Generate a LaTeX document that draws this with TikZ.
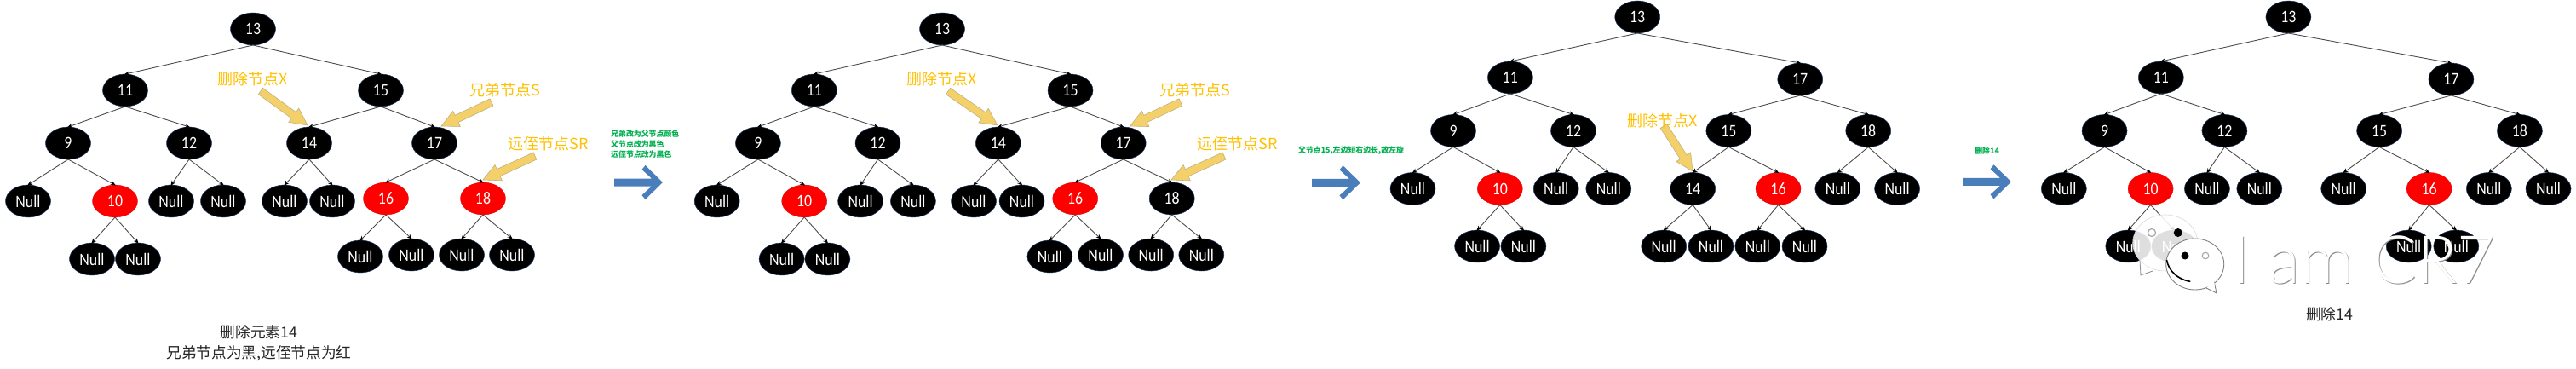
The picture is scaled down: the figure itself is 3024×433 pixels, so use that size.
\documentclass[tikz,border=0pt]{standalone}
\usepackage{fontspec}
\setmainfont{Carlito}
\newfontfamily\nodefont[FakeStretch=0.87]{Carlito}
\newfontfamily\cjk{Noto Sans CJK SC}
\newfontfamily\wmfont{Lato Light}
\usetikzlibrary{shapes.geometric,calc,arrows.meta}
\definecolor{nodeedge}{HTML}{1F3864}
\definecolor{labelorange}{HTML}{FFC000}
\definecolor{yarrowfill}{HTML}{F3D06A}
\definecolor{yarrowedge}{HTML}{BDB27E}
\definecolor{barrowfill}{HTML}{4A7EBB}
\definecolor{notegreen}{HTML}{00B050}
\tikzset{
  treenode/.style={ellipse,minimum width=53pt,minimum height=38pt,inner sep=0pt,outer sep=0pt,text=white,font=\nodefont\fontsize{20.5}{20.5}\selectfont},
  blk/.style={treenode,fill=black,draw=nodeedge,line width=0.5pt},
  rednode/.style={treenode,fill=red,draw=red!85!black,line width=0.3pt},
  edgeline/.style={draw=black!70,line width=0.9pt,-{Stealth[length=6pt,width=5pt,color=black]},shorten >=-1pt},
  marklabel/.style={text=labelorange,font=\cjk\fontsize{18}{18}\selectfont,inner sep=0pt},
  notetext/.style={text=notegreen,font=\cjk\bfseries\fontsize{8.9}{12}\selectfont,inner sep=0pt,align=left},
  captiontext/.style={text=black!85,font=\cjk\fontsize{17.7}{24}\selectfont,inner sep=0pt,align=center},
  yarrowstyle/.style={fill=yarrowfill,draw=yarrowedge,line width=0.6pt},
  barrowstyle/.style={fill=barrowfill,draw=none},
}
\newcommand\yellowarrow[2]{%
  \coordinate (ys) at (#1);\coordinate (ye) at (#2);
  \coordinate (yn) at ($(ye)!20pt!(ys)$);
  \draw[yarrowstyle] ($(ys)!4.5pt!90:(ye)$) -- ($(yn)!4.5pt!90:(ye)$) -- ($(yn)!10pt!90:(ye)$) -- (ye)
     -- ($(yn)!10pt!-90:(ye)$) -- ($(yn)!4.5pt!-90:(ye)$) -- ($(ys)!4.5pt!-90:(ye)$) -- cycle;
}
\newcommand\bluearrow[2]{%
  \fill[barrowstyle,shift={(#1,#2)}] (0,-4.5) -- (44,-4.5) -- (32.5,-15) -- (36.5,-20) -- (57,0)
     -- (36.5,20) -- (32.5,15) -- (44,4.5) -- (0,4.5) -- cycle;
}
\begin{document}
\begin{tikzpicture}[x=1pt,y=-1pt]
\useasboundingbox (0,0) rectangle (3024,433);
\fill[white] (0,0) rectangle (3024,433);

% ---------- panel 1
\node[blk] (a13) at (297,34) {13};
\node[blk] (a11) at (147,106) {11};
\node[blk] (a15) at (447,106) {15};
\node[blk] (a9) at (80,168) {9};
\node[blk] (a12) at (222,168) {12};
\node[blk] (a14) at (363,168) {14};
\node[blk] (a17) at (510,168) {17};
\node[blk] (an1) at (33,236) {Null};
\node[rednode] (a10) at (135,236) {10};
\node[blk] (an2) at (201,236) {Null};
\node[blk] (an3) at (262,236) {Null};
\node[blk] (an4) at (334,236) {Null};
\node[blk] (an5) at (390,236) {Null};
\node[rednode] (a16) at (453,233) {16};
\node[rednode] (a18) at (567,233) {18};
\node[blk] (an6) at (108,304) {Null};
\node[blk] (an7) at (162,304) {Null};
\node[blk] (an8) at (423,301) {Null};
\node[blk] (an9) at (483,299) {Null};
\node[blk] (an10) at (542,299) {Null};
\node[blk] (an11) at (601,299) {Null};
\foreach \p/\c in {a13/a11,a13/a15,a11/a9,a11/a12,a15/a14,a15/a17,a9/an1,a9/a10,a12/an2,a12/an3,a14/an4,a14/an5,a17/a16,a17/a18,a10/an6,a10/an7,a16/an8,a16/an9,a18/an10,a18/an11}
  \draw[edgeline] (\p.south) -- (\c.north);
\yellowarrow{306,107}{361,147}
\yellowarrow{577,120}{518,148}
\yellowarrow{628,183}{567,211}
\node[marklabel] (alx) at (297,93) {删除节点X};
\node[marklabel] (als) at (593,106) {兄弟节点S};
\node[marklabel] (alr) at (644,169) {远侄节点SR};
\node[captiontext] (acap) at (304,403) {删除元素14\\兄弟节点为黑,远侄节点为红};

% ---------- step 1
\node[notetext,anchor=west] (note1) at (717,169) {兄弟改为父节点颜色\\父节点改为黑色\\远侄节点改为黑色};
\bluearrow{721}{214}

% ---------- panel 2
\node[blk] (b13) at (1106,34) {13};
\node[blk] (b11) at (955.8,106) {11};
\node[blk] (b15) at (1256.5,106) {15};
\node[blk] (b9) at (889.9,168) {9};
\node[blk] (b12) at (1030.5,168) {12};
\node[blk] (b14) at (1171.8,168) {14};
\node[blk] (b17) at (1318.7,168) {17};
\node[blk] (bn1) at (841.7,236) {Null};
\node[rednode] (b10) at (944.2,236) {10};
\node[blk] (bn2) at (1010.1,236) {Null};
\node[blk] (bn3) at (1071.9,236) {Null};
\node[blk] (bn4) at (1143,236) {Null};
\node[blk] (bn5) at (1199.5,236) {Null};
\node[rednode] (b16) at (1262.2,233) {16};
\node[blk] (b18) at (1375.7,233) {18};
\node[blk] (bn6) at (917.6,304) {Null};
\node[blk] (bn7) at (971.4,304) {Null};
\node[blk] (bn8) at (1232.4,301) {Null};
\node[blk] (bn9) at (1292,299) {Null};
\node[blk] (bn10) at (1351.2,299) {Null};
\node[blk] (bn11) at (1410.3,299) {Null};
\foreach \p/\c in {b13/b11,b13/b15,b11/b9,b11/b12,b15/b14,b15/b17,b9/bn1,b9/b10,b12/bn2,b12/bn3,b14/bn4,b14/bn5,b17/b16,b17/b18,b10/bn6,b10/bn7,b16/bn8,b16/bn9,b18/bn10,b18/bn11}
  \draw[edgeline] (\p.south) -- (\c.north);
\yellowarrow{1113,107}{1171,147}
\yellowarrow{1386,120}{1326.5,148}
\yellowarrow{1437,183}{1375,211}
\node[marklabel] (blx) at (1105.9,93) {删除节点X};
\node[marklabel] (bls) at (1403,106) {兄弟节点S};
\node[marklabel] (blr) at (1453,169) {远侄节点SR};

% ---------- step 2
\node[notetext] (note2) at (1586,177) {父节点15,左边短右边长,故左旋};
\bluearrow{1540}{214.3}

% ---------- panel 3
\node[blk] (c13) at (1922.2,20) {13};
\node[blk] (c11) at (1772.9,91) {11};
\node[blk] (c17) at (2113.2,93) {17};
\node[blk] (c9) at (1706,153.5) {9};
\node[blk] (c12) at (1847,153.5) {12};
\node[blk] (c15) at (2029.3,153.5) {15};
\node[blk] (c18) at (2193.2,153.5) {18};
\node[blk] (cn1) at (1658.5,221.5) {Null};
\node[rednode] (c10) at (1760.8,221.5) {10};
\node[blk] (cn2) at (1826.7,221.5) {Null};
\node[blk] (cn3) at (1888.3,221.5) {Null};
\node[blk] (c14) at (1987.2,221.5) {14};
\node[rednode] (c16) at (2087.5,221.5) {16};
\node[blk] (cn4) at (2157.3,221.5) {Null};
\node[blk] (cn5) at (2227.1,221.5) {Null};
\node[blk] (cn6) at (1734.1,289) {Null};
\node[blk] (cn7) at (1788.4,289) {Null};
\node[blk] (cn8) at (1953.2,289) {Null};
\node[blk] (cn9) at (2008.5,289) {Null};
\node[blk] (cn10) at (2063.3,289) {Null};
\node[blk] (cn11) at (2118.5,289) {Null};
\foreach \p/\c in {c13/c11,c13/c17,c11/c9,c11/c12,c17/c15,c17/c18,c9/cn1,c9/c10,c12/cn2,c12/cn3,c15/c14,c15/c16,c18/cn4,c18/cn5,c10/cn6,c10/cn7,c14/cn8,c14/cn9,c16/cn10,c16/cn11}
  \draw[edgeline] (\p.south) -- (\c.north);
\yellowarrow{1953,148}{1987,201}
\node[marklabel] (clx) at (1951.8,141.7) {删除节点X};

% ---------- step 3
\node[notetext] (note3) at (2332.6,177) {删除14};
\bluearrow{2304}{213.3}

% ---------- panel 4
\node[blk] (d13) at (2686.4,20) {13};
\node[blk] (d11) at (2536.8,91) {11};
\node[blk] (d17) at (2877.4,93) {17};
\node[blk] (d9) at (2470.5,153.5) {9};
\node[blk] (d12) at (2611.4,153.5) {12};
\node[blk] (d15) at (2793.1,153.5) {15};
\node[blk] (d18) at (2957.9,153.5) {18};
\node[blk] (dn1) at (2422.8,221.5) {Null};
\node[rednode] (d10) at (2524.6,221.5) {10};
\node[blk] (dn2) at (2590.9,221.5) {Null};
\node[blk] (dn3) at (2652.3,221.5) {Null};
\node[blk] (dn4) at (2751.2,221.5) {Null};
\node[rednode] (d16) at (2851.6,221.5) {16};
\node[blk] (dn5) at (2921.8,221.5) {Null};
\node[blk] (dn6) at (2991.5,221.5) {Null};
\node[blk] (dn7) at (2498.3,289) {Null};
\node[blk] (dn8) at (2552.4,289) {Null};
\node[blk] (dn9) at (2827.7,289) {Null};
\node[blk] (dn10) at (2883.3,289) {Null};
\foreach \p/\c in {d13/d11,d13/d17,d11/d9,d11/d12,d17/d15,d17/d18,d9/dn1,d9/d10,d12/dn2,d12/dn3,d15/dn4,d15/d16,d18/dn5,d18/dn6,d10/dn7,d10/dn8,d16/dn9,d16/dn10}
  \draw[edgeline] (\p.south) -- (\c.north);
\node[captiontext] (dcap) at (2734.7,369) {删除14};

% ---------- watermark
\begin{scope}
  \fill[white,opacity=0.87] (2541.7,285) ellipse [x radius=38,y radius=33];
  \fill[white,opacity=0.87] (2513,310) -- (2513,323) -- (2527,317) -- cycle;
  \draw[black!15,line width=0.6pt] (2541.7,285) ellipse [x radius=38,y radius=33];
  \draw[black!45,line width=0.8pt,fill=white] (2512,306) -- (2513,323) -- (2527,318);
  \draw[black!35,line width=1.2pt] (2526,273) circle (4.5);
  \fill[black] (2556.7,273) circle (5);
  \draw[black!50,fill=white,line width=0.9pt] (2576.7,310) ellipse [x radius=34,y radius=30];
  \draw[black!50,fill=white,line width=0.9pt] (2590,338) -- (2602,344) -- (2599,330);
  \fill[white] (2585,332) -- (2600,340) -- (2599,325) -- cycle;
  \draw[black,line width=1.6pt] (2543.5,305) arc [start angle=172,end angle=100,x radius=34,y radius=30];
  \fill[black] (2565,300) circle (4.5);
  \draw[black!35,line width=1.1pt] (2589,300) circle (3.8);
  \node[anchor=base west,text=black!45,inner sep=0pt,font=\wmfont\fontsize{78}{78}\selectfont] (wms) at (2622,333) {I am CR7};
  \node[anchor=base west,text=white,inner sep=0pt,font=\wmfont\fontsize{78}{78}\selectfont] (wm) at (2621,332) {I am CR7};
\end{scope}
\end{tikzpicture}
\end{document}
